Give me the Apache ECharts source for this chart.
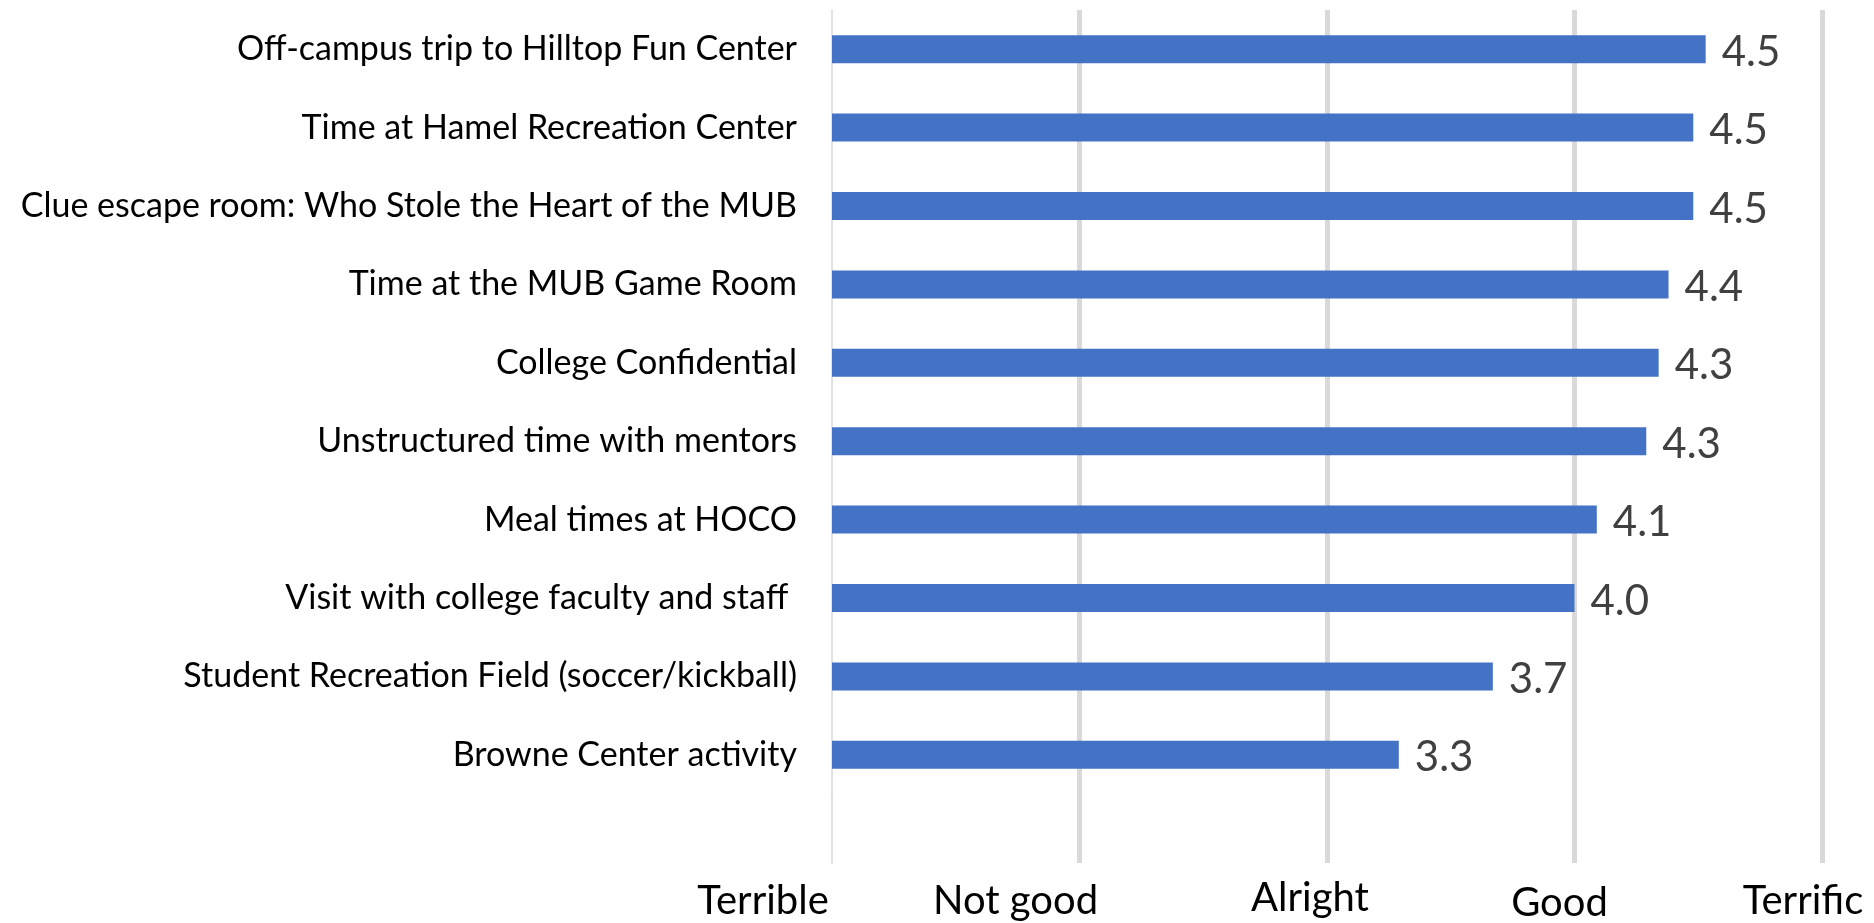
<!DOCTYPE html>
<html>
<head>
<meta charset="utf-8">
<script src="https://cdn.jsdelivr.net/npm/echarts@6/dist/echarts.min.js"></script>
<style>
  html, body { margin: 0; padding: 0; background: #fff; }
  #chartActividades { width: 1874px; height: 923px; }
</style>
</head>
<body>
<div id="chartActividades"></div>
<script>
// datos del grafico (de arriba hacia abajo)
var categorias = [
  "Off-campus trip to Hilltop Fun Center",
  "Time at Hamel Recreation Center",
  "Clue escape room: Who Stole the Heart of the MUB",
  "Time at the MUB Game Room",
  "College Confidential",
  "Unstructured time with mentors",
  "Meal times at HOCO",
  "Visit with college faculty and staff ",
  "Student Recreation Field (soccer/kickball)",
  "Browne Center activity"
];
var valores = [4.53, 4.48, 4.48, 4.38, 4.34, 4.29, 4.09, 4.0, 3.67, 3.29];
var escala = [1, 2, 3, 4, 5];
var etiquetasEscala = ["Terrible", "Not good", "Alright", "Good", "Terrific"];

document.addEventListener("DOMContentLoaded", () => {
  var chart = echarts.init(document.querySelector("#chartActividades"));

  var gris = "#d9d9d9";
  var fuente = "Lato";

  // cada etiqueta de la escala va un poco corrida, como en el original
  var base = { fontSize: 40, fontFamily: fuente, color: "#000", lineHeight: 40 };
  var estilosEscala = {
    e0: Object.assign({ padding: [16, 138, 0, 0] }, base),
    e1: Object.assign({ padding: [16, 128, 0, 0] }, base),
    e2: Object.assign({ padding: [11, 34, 0, 0] }, base),
    e3: Object.assign({ padding: [21, 30, 0, 0] }, base),
    e4: Object.assign({ padding: [16, 38, 0, 0] }, base)
  };

  var ejeValor = {
    type: "value",
    min: escala[0],
    max: escala[escala.length - 1],
    interval: 1,
    axisLine: { show: false },
    axisTick: { show: false },
    axisLabel: { show: false },
    splitLine: {
      show: true,
      showMinLine: false,
      lineStyle: { color: gris, width: 5 }
    }
  };

  chart.setOption({
    animation: false,
    grid: [
      { left: 832, right: 52, top: 10, height: 784, outerBoundsMode: "none" },
      { left: 832, right: 52, top: 794, height: 69, outerBoundsMode: "none" }
    ],
    xAxis: [
      Object.assign({ gridIndex: 0 }, ejeValor),
      Object.assign({ gridIndex: 1 }, ejeValor),
      // eje solo para los textos de la escala
      {
        gridIndex: 1,
        type: "category",
        position: "bottom",
        boundaryGap: false,
        data: etiquetasEscala,
        axisLine: { show: false },
        axisTick: { show: false },
        splitLine: { show: false },
        axisLabel: {
          interval: 0,
          margin: 10,
          verticalAlign: "top",
          formatter: function (v, i) {
            return "{e" + i + "|" + v + "}";
          },
          rich: estilosEscala
        }
      }
    ],
    yAxis: [
      {
        gridIndex: 0,
        type: "category",
        inverse: true,
        data: categorias,
        axisLine: { show: true, lineStyle: { color: gris, width: 1.5 } },
        axisTick: { show: false },
        axisLabel: {
          margin: 35,
          fontSize: 34,
          fontFamily: fuente,
          color: "#000"
        }
      },
      {
        gridIndex: 1,
        type: "category",
        data: [""],
        axisLine: { show: true, lineStyle: { color: gris, width: 1.5 } },
        axisTick: { show: false },
        axisLabel: { show: false }
      }
    ],
    series: [
      {
        name: "Rating",
        type: "bar",
        xAxisIndex: 0,
        yAxisIndex: 0,
        data: valores,
        barWidth: 28,
        clip: true,
        itemStyle: { color: "#4472C4" },
        label: {
          show: true,
          position: "right",
          distance: 16,
          offset: [0, 3],
          fontSize: 42,
          fontFamily: fuente,
          color: "#404040",
          formatter: function (p) {
            return p.value.toFixed(1);
          }
        }
      }
    ]
  });
});
</script>
</body>
</html>
